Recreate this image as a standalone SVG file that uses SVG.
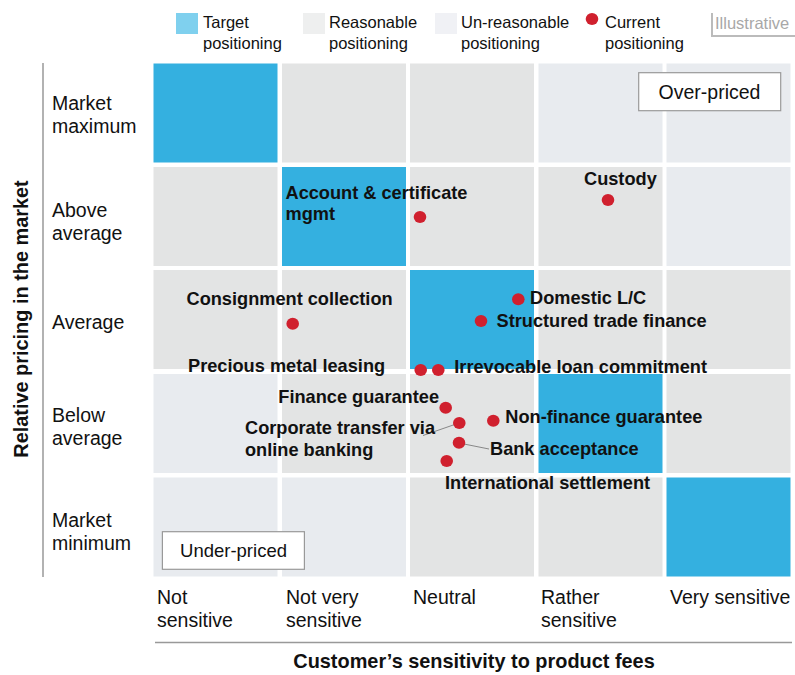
<svg xmlns="http://www.w3.org/2000/svg" width="795" height="675" viewBox="0 0 795 675">
<style>
.t{fill:#34B0E0}.r{fill:#E3E4E4}.u{fill:#E8EBEF}
.lbl{font-family:"Liberation Sans",Arial,sans-serif;font-size:16.5px;fill:#111}
.tick{font-family:"Liberation Sans",Arial,sans-serif;font-size:19.5px;fill:#111}
.item{font-family:"Liberation Sans",Arial,sans-serif;font-size:18.2px;font-weight:bold;fill:#111}
.title{font-family:"Liberation Sans",Arial,sans-serif;font-size:19.9px;font-weight:bold;fill:#111}
.dot{fill:#D0202E}
.axis{stroke:#999;stroke-width:1.5;fill:none}
.conn{stroke:#888;stroke-width:1;fill:none}
.box{fill:#fff;stroke:#999;stroke-width:1.2}
</style>
<rect width="795" height="675" fill="#fff"/>
<g id="legend">
<rect x="176" y="13" width="22" height="21" fill="#7FD0EE"/>
<text class="lbl" x="203" y="28">Target</text><text class="lbl" x="203" y="49">positioning</text>
<rect x="303" y="13" width="22" height="21" fill="#EEEFEF"/>
<text class="lbl" x="329" y="28">Reasonable</text><text class="lbl" x="329" y="49">positioning</text>
<rect x="435" y="13" width="22" height="21" fill="#F0F1F5"/>
<text class="lbl" x="461" y="28">Un-reasonable</text><text class="lbl" x="461" y="49">positioning</text>
<ellipse class="dot" cx="592" cy="19" rx="6.3" ry="6"/>
<text class="lbl" x="605" y="28">Current</text><text class="lbl" x="605" y="49">positioning</text>
</g>
<g id="illustrative">
<path d="M712 13 V36 H795" stroke="#BBB" stroke-width="2" fill="none"/>
<text class="lbl" x="715" y="29" style="fill:#A8A8A8">Illustrative</text>
</g>
<g id="grid">
<rect class="t" x="153.5" y="63.5" width="124" height="99"/>
<rect class="r" x="282" y="63.5" width="124" height="99"/>
<rect class="r" x="410" y="63.5" width="124" height="99"/>
<rect class="u" x="538.5" y="63.5" width="124" height="99"/>
<rect class="u" x="666.5" y="63.5" width="124" height="99"/>
<rect class="r" x="153.5" y="167" width="124" height="99"/>
<rect class="t" x="282" y="167" width="124" height="99"/>
<rect class="r" x="410" y="167" width="124" height="99"/>
<rect class="r" x="538.5" y="167" width="124" height="99"/>
<rect class="u" x="666.5" y="167" width="124" height="99"/>
<rect class="r" x="153.5" y="270" width="124" height="99"/>
<rect class="r" x="282" y="270" width="124" height="99"/>
<rect class="t" x="410" y="270" width="124" height="99"/>
<rect class="r" x="538.5" y="270" width="124" height="99"/>
<rect class="r" x="666.5" y="270" width="124" height="99"/>
<rect class="u" x="153.5" y="374" width="124" height="99"/>
<rect class="r" x="282" y="374" width="124" height="99"/>
<rect class="r" x="410" y="374" width="124" height="99"/>
<rect class="t" x="538.5" y="374" width="124" height="99"/>
<rect class="r" x="666.5" y="374" width="124" height="99"/>
<rect class="u" x="153.5" y="477.5" width="124" height="99"/>
<rect class="u" x="282" y="477.5" width="124" height="99"/>
<rect class="r" x="410" y="477.5" width="124" height="99"/>
<rect class="r" x="538.5" y="477.5" width="124" height="99"/>
<rect class="t" x="666.5" y="477.5" width="124" height="99"/>
</g>
<g id="axes">
<line class="axis" x1="43" y1="63" x2="43" y2="577"/>
<line class="axis" x1="155" y1="642.5" x2="792" y2="642.5"/>
<text class="title" transform="translate(28,319) rotate(-90)" text-anchor="middle">Relative pricing in the market</text>
<text class="title" x="474" y="667.5" text-anchor="middle">Customer’s sensitivity to product fees</text>
</g>
<g id="row-labels">
<text class="tick" x="52" y="110">Market</text><text class="tick" x="52" y="133">maximum</text>
<text class="tick" x="52" y="216.5">Above</text><text class="tick" x="52" y="239.5">average</text>
<text class="tick" x="52" y="329">Average</text>
<text class="tick" x="52" y="421.5">Below</text><text class="tick" x="52" y="444.5">average</text>
<text class="tick" x="52" y="527">Market</text><text class="tick" x="52" y="550">minimum</text>
</g>
<g id="col-labels">
<text class="tick" x="157" y="603.5">Not</text><text class="tick" x="157" y="627">sensitive</text>
<text class="tick" x="286" y="603.5">Not very</text><text class="tick" x="286" y="627">sensitive</text>
<text class="tick" x="413" y="603.5">Neutral</text>
<text class="tick" x="541" y="603.5">Rather</text><text class="tick" x="541" y="627">sensitive</text>
<text class="tick" x="670" y="603.5">Very sensitive</text>
</g>
<g id="over-priced">
<rect class="box" x="638.7" y="72.7" width="142" height="38"/>
<text class="tick" x="709.5" y="99.3" text-anchor="middle">Over-priced</text>
</g>
<g id="under-priced">
<rect class="box" x="162.4" y="531.7" width="142" height="37.6"/>
<text class="tick" x="233.5" y="557.3" text-anchor="middle" style="font-size:18.5px">Under-priced</text>
</g>
<g id="connectors">
<line class="conn" x1="459" y1="423" x2="423" y2="435.5"/>
<line class="conn" x1="459" y1="443" x2="489" y2="449"/>
</g>
<g id="account-certificate">
<ellipse class="dot" cx="420" cy="217" rx="6.3" ry="6"/>
<text class="item" x="285.5" y="198.5">Account &amp; certificate</text>
<text class="item" x="285.5" y="220">mgmt</text>
</g>
<g id="custody">
<ellipse class="dot" cx="608" cy="200" rx="6.3" ry="6"/>
<text class="item" x="584" y="185">Custody</text>
</g>
<g id="consignment-collection">
<ellipse class="dot" cx="292.7" cy="323.7" rx="6.3" ry="6"/>
<text class="item" x="186.5" y="305">Consignment collection</text>
</g>
<g id="domestic-lc">
<ellipse class="dot" cx="518.3" cy="299.3" rx="6.3" ry="6"/>
<text class="item" x="530" y="304">Domestic L/C</text>
</g>
<g id="structured-trade-finance">
<ellipse class="dot" cx="481" cy="321" rx="6.3" ry="6"/>
<text class="item" x="496.5" y="327">Structured trade finance</text>
</g>
<g id="precious-metal-leasing">
<ellipse class="dot" cx="420.7" cy="370" rx="6.3" ry="6"/>
<text class="item" x="188" y="372">Precious metal leasing</text>
</g>
<g id="irrevocable-loan-commitment">
<ellipse class="dot" cx="438.3" cy="370" rx="6.3" ry="6"/>
<text class="item" x="454.3" y="373">Irrevocable loan commitment</text>
</g>
<g id="finance-guarantee">
<ellipse class="dot" cx="445.7" cy="407.7" rx="6.3" ry="6"/>
<text class="item" x="278.3" y="403">Finance guarantee</text>
</g>
<g id="corporate-transfer">
<ellipse class="dot" cx="459.3" cy="423" rx="6.3" ry="6"/>
<text class="item" x="245" y="433.5">Corporate transfer via</text>
<text class="item" x="245" y="455.5">online banking</text>
</g>
<g id="non-finance-guarantee">
<ellipse class="dot" cx="493.3" cy="420.7" rx="6.3" ry="6"/>
<text class="item" x="505.3" y="423">Non-finance guarantee</text>
</g>
<g id="bank-acceptance">
<ellipse class="dot" cx="459" cy="442.7" rx="6.3" ry="6"/>
<text class="item" x="490" y="455">Bank acceptance</text>
</g>
<g id="international-settlement">
<ellipse class="dot" cx="446.7" cy="461" rx="6.3" ry="6"/>
<text class="item" x="445" y="488.5">International settlement</text>
</g>
</svg>
